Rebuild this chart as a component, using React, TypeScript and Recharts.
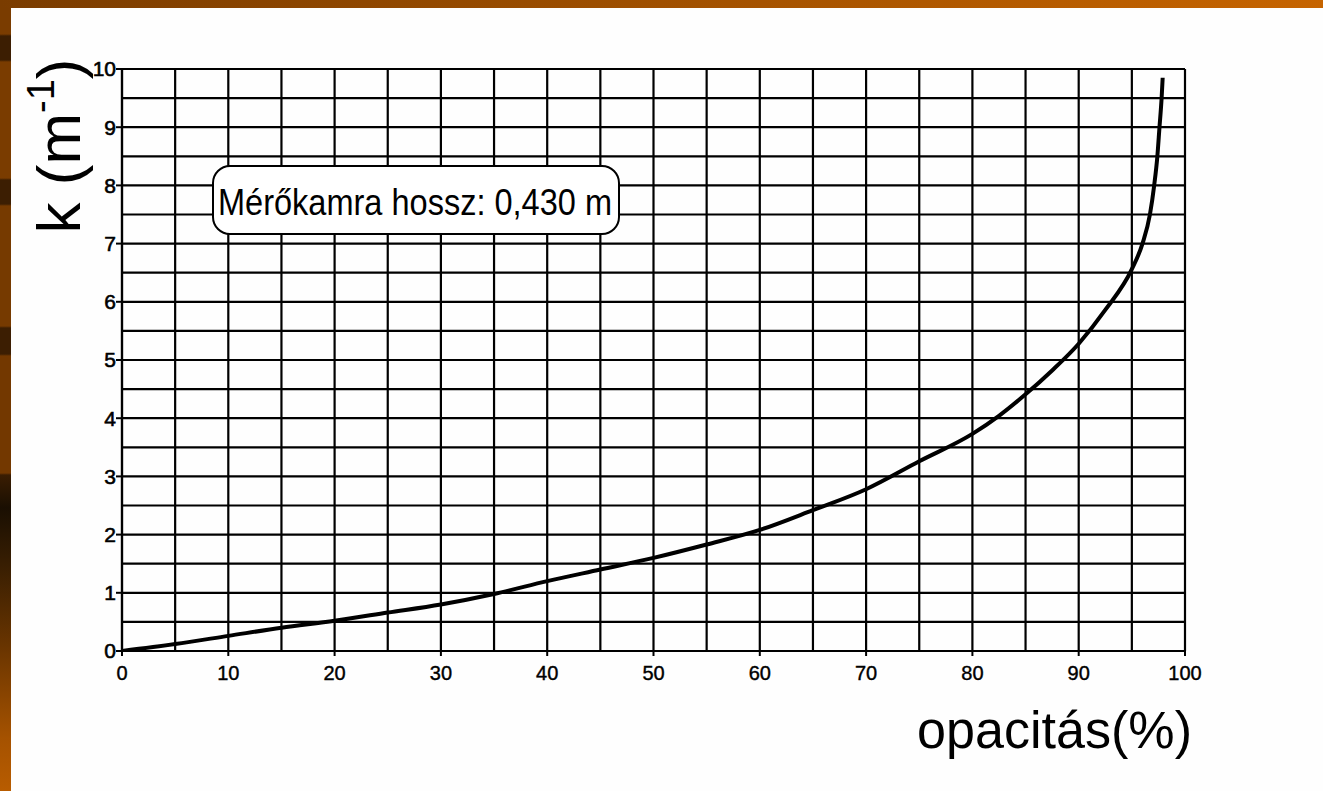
import React from "react";
import { LineChart, Line, XAxis, YAxis, CartesianGrid } from "recharts";

const opacity = [0, 5, 10, 15, 20, 25, 30, 35, 40, 45, 50, 55, 60, 65, 70, 75, 80, 82.5, 85, 87.5, 90, 92.5, 95, 96, 96.7, 97.1, 97.4, 97.6, 97.8, 97.9];
const kValues = [0, 0.12, 0.26, 0.4, 0.52, 0.66, 0.8, 0.98, 1.2, 1.4, 1.6, 1.83, 2.08, 2.42, 2.78, 3.26, 3.73, 4.04, 4.41, 4.82, 5.28, 5.86, 6.56, 7.0, 7.5, 8.0, 8.5, 9.0, 9.5, 9.85];

const xTicks = [0, 10, 20, 30, 40, 50, 60, 70, 80, 90, 100];
const yTicks = [0, 1, 2, 3, 4, 5, 6, 7, 8, 9, 10];
const xGrid = [0, 5, 10, 15, 20, 25, 30, 35, 40, 45, 50, 55, 60, 65, 70, 75, 80, 85, 90, 95, 100];
const yGrid = [0, 0.5, 1, 1.5, 2, 2.5, 3, 3.5, 4, 4.5, 5, 5.5, 6, 6.5, 7, 7.5, 8, 8.5, 9, 9.5, 10];

const xTitle = "opacitás(%)";
const boxText = "Mérőkamra hossz: 0,430 m";

const data = opacity.map((o, i) => ({ o, k: kValues[i] }));

const FONT = "'Liberation Sans', Arial, Helvetica, sans-serif";

export default function App() {
  return (
    <div
      style={{
        position: "fixed",
        left: 0,
        top: 0,
        width: 1323,
        height: 791,
        background: "#fefefe",
        overflow: "hidden",
      }}
    >
      <div
        style={{
          position: "absolute",
          left: 0,
          top: 0,
          width: 1323,
          height: 8,
          background: "linear-gradient(to right, #7a3c00, #a05000 50%, #c66400)",
        }}
      />
      <div
        style={{
          position: "absolute",
          left: 0,
          top: 8,
          width: 11,
          height: 783,
          background:
            "linear-gradient(to bottom, #7a3c00 0px, #7a3c00 26px, #3c1e02 28px, #3c1e02 52px, #7a3c00 54px, #7a3c00 170px, #3c1e02 172px, #3c1e02 196px, #763a00 198px, #763a00 318px, #3c1e02 320px, #3c1e02 346px, #733800 348px, #733800 465px, #3a1d02 467px, #1a0f02 500px, #3a1f02 560px, #6a3500 640px, #a55200 730px, #b85c00 783px)",
        }}
      />
      <div style={{ position: "absolute", left: 0, top: 0 }}>
        <LineChart
          width={1323}
          height={791}
          data={data}
          margin={{ top: 69, right: 138, bottom: 110, left: 62 }}
        >
          <CartesianGrid
            stroke="#000"
            strokeWidth={2.2}
            horizontalValues={yGrid}
            verticalValues={xGrid}
          />
          <XAxis
            type="number"
            dataKey="o"
            domain={[0, 100]}
            ticks={xTicks}
            interval={0}
            height={30}
            axisLine={{ stroke: "#000", strokeWidth: 2.2 }}
            tickLine={{ stroke: "#000", strokeWidth: 2 }}
            tickSize={5}
            tickMargin={10}
            tick={{ fill: "#000", fontSize: 20, fontFamily: FONT, stroke: "#000", strokeWidth: 0.4 }}
            allowDataOverflow
          />
          <YAxis
            type="number"
            dataKey="k"
            domain={[0, 10]}
            ticks={yTicks}
            interval={0}
            width={60}
            axisLine={{ stroke: "#000", strokeWidth: 2.2 }}
            tickLine={{ stroke: "#000", strokeWidth: 2 }}
            tickSize={6}
            tickMargin={0}
            tick={{ fill: "#000", fontSize: 21, fontFamily: FONT, stroke: "#000", strokeWidth: 0.6 }}
            allowDataOverflow
          />
          <Line
            type="monotone"
            dataKey="k"
            stroke="#000"
            strokeWidth={4}
            dot={false}
            isAnimationActive={false}
          />
        </LineChart>
      </div>
      <div
        style={{
          position: "absolute",
          left: 212,
          top: 165,
          width: 404,
          height: 66,
          border: "2px solid #000",
          borderRadius: 18,
          background: "#fff",
        }}
      />
      <svg
        width={1323}
        height={791}
        style={{ position: "absolute", left: 0, top: 0, pointerEvents: "none" }}
      >
        <text
          x={218}
          y={215}
          fontFamily={FONT}
          fontSize={37}
          fill="#000"
          textLength={394}
          lengthAdjust="spacingAndGlyphs"
        >
          {boxText}
        </text>
        <text
          x={917}
          y={748}
          fontFamily={FONT}
          fontSize={51}
          fill="#000"
          textLength={275}
          lengthAdjust="spacingAndGlyphs"
        >
          {xTitle}
        </text>
        <text
          transform="translate(80,146) rotate(-90)"
          textAnchor="middle"
          fontFamily={FONT}
          fontSize={62}
          fill="#000"
        >
          <tspan>k (m</tspan>
          <tspan fontSize={38} dy={-26}>-1</tspan>
          <tspan dy={26}>)</tspan>
        </text>
      </svg>
    </div>
  );
}
